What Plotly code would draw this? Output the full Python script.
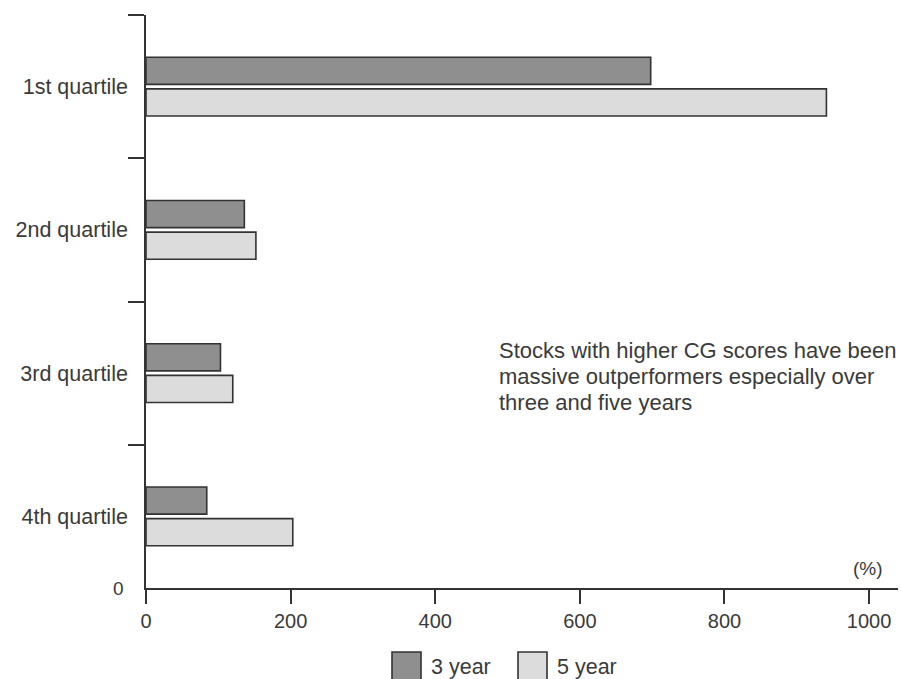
import plotly.graph_objects as go

categories = ["1st quartile", "2nd quartile", "3rd quartile", "4th quartile"]
three_year = [698, 136, 103, 84]
five_year = [941, 152, 120, 203]
x_ticks = [0, 200, 400, 600, 800, 1000]
note_lines = ["Stocks with higher CG scores have been",
              "massive outperformers especially over",
              "three and five years"]

FONT = "Liberation Sans, Arial, sans-serif"
TXT = "#3a3a3a"
AX = "#333333"
DARK = "#8f8f8f"
LIGHT = "#dcdcdc"

W, H = 901, 679
ML, MR, MT, MB = 146, 3, 15, 91
PW, PH = W - ML - MR, H - MT - MB

def px(x):
    return (x - ML) / PW

def py(y):
    return (H - MB - y) / PH

fig = go.Figure()
fig.add_trace(go.Bar(y=categories, x=three_year, orientation="h", name="3 year",
                     marker=dict(color=DARK, line=dict(color=AX, width=1.6))))
fig.add_trace(go.Bar(y=categories, x=five_year, orientation="h", name="5 year",
                     marker=dict(color=LIGHT, line=dict(color=AX, width=1.6))))

fig.update_layout(
    width=W, height=H,
    margin=dict(l=ML, r=MR, t=MT, b=MB),
    paper_bgcolor="white", plot_bgcolor="white",
    barmode="group", bargap=0.56, bargroupgap=0.14,
    showlegend=False,
    font=dict(family=FONT, size=20, color=TXT),
)
fig.update_xaxes(
    range=[0, 1040], tickvals=x_ticks, ticktext=[str(v) for v in x_ticks],
    showgrid=False, zeroline=False, showline=True, linecolor=AX, linewidth=1.6,
    ticks="outside", ticklen=14, tickwidth=1.6, tickcolor=AX,
    tickfont=dict(size=20, color=TXT),
)
fig.update_yaxes(
    type="category", categoryorder="array", categoryarray=categories,
    range=[3.5, -0.5], tickson="boundaries",
    showgrid=False, zeroline=False, showline=True, linecolor=AX, linewidth=1.6,
    ticks="outside", ticklen=16, tickwidth=1.6, tickcolor=AX,
    ticklabelstandoff=12,
    tickfont=dict(size=21.5, color=TXT),
)

# "0" label at the origin of the category axis
fig.add_annotation(text="0", x=0, y=0, xref="paper", yref="paper",
                   xanchor="right", yanchor="middle", xshift=-20, showarrow=False,
                   font=dict(size=19, color=TXT))
# unit label
fig.add_annotation(text="(%)", x=px(885), y=py(568), xref="paper", yref="paper",
                   xanchor="right", yanchor="middle", showarrow=False,
                   font=dict(size=19, color=TXT))
# note, one annotation per line for tight line spacing
for i, line in enumerate(note_lines):
    fig.add_annotation(text=line, x=px(497), y=py(350 + 26 * i), xref="paper", yref="paper",
                       xanchor="left", yanchor="middle", align="left", showarrow=False,
                       font=dict(size=22, color=TXT))

# legend
legend_items = [("3 year", DARK, 392), ("5 year", LIGHT, 518)]
for name, col, x0 in legend_items:
    fig.add_shape(type="rect", xref="paper", yref="paper",
                  x0=px(x0), x1=px(x0 + 29), y0=py(652), y1=py(690),
                  fillcolor=col, line=dict(color=AX, width=1.6))
    fig.add_annotation(text=name, x=px(x0 + 37), y=py(667), xref="paper", yref="paper",
                       xanchor="left", yanchor="middle", showarrow=False,
                       font=dict(size=21.5, color=TXT))

fig.write_html("out.html", config={"displayModeBar": False},
               post_script="document.body.style.margin='0';document.body.style.overflow='hidden';")
